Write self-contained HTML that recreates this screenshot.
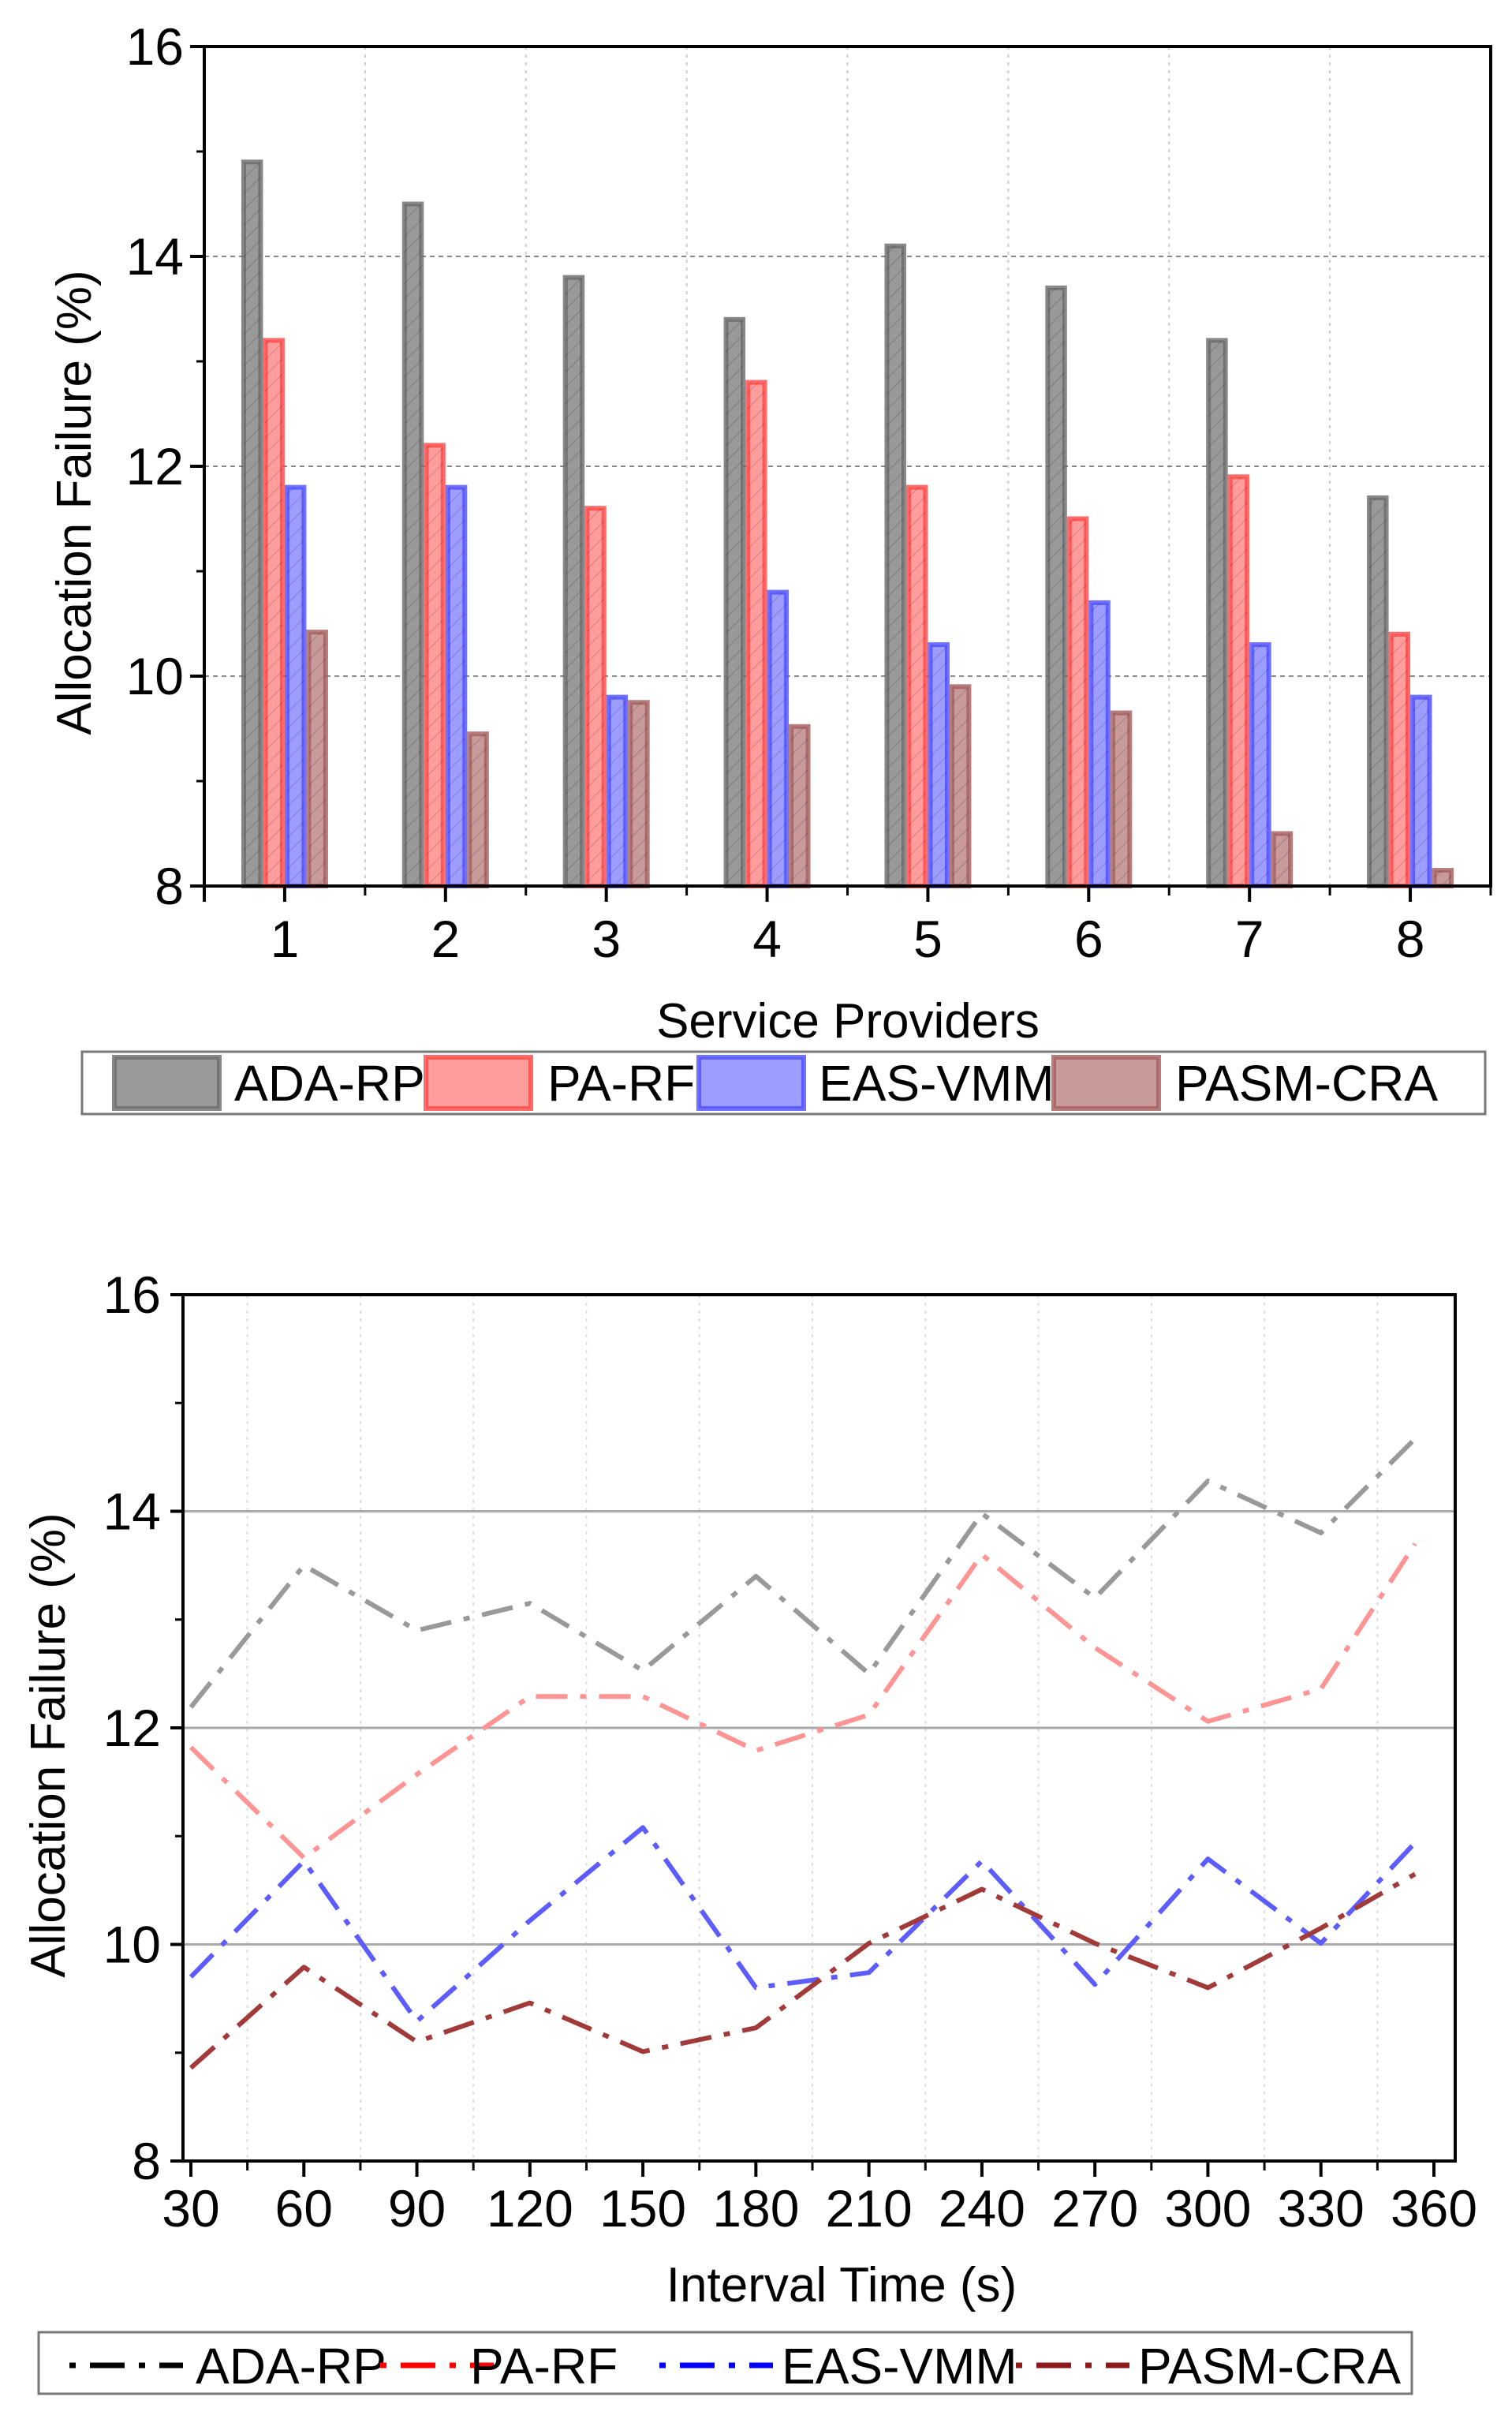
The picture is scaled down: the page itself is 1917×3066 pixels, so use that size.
<!DOCTYPE html>
<html><head><meta charset="utf-8"><style>
html,body{margin:0;padding:0;background:#fff}
svg{display:block}
text{font-family:"Liberation Sans",sans-serif;fill:#000}
</style></head><body>
<svg id="root" width="1917" height="3066" viewBox="0 0 1917 3066" xmlns="http://www.w3.org/2000/svg">
<defs>
<pattern id="hatch" width="14" height="14" patternUnits="userSpaceOnUse" patternTransform="rotate(45)">
<line x1="0" y1="0" x2="0" y2="14" stroke="#000" stroke-opacity="0.18" stroke-width="2"/>
</pattern>
</defs>
<g id="c1"></g>
<g id="c2"></g>
</svg>
<script>
// ---------- Bar chart data ----------
const barCategories = ["1","2","3","4","5","6","7","8"];
const barSeriesNames = ["ADA-RP","PA-RF","EAS-VMM","PASM-CRA"];
const barAda = [14.9,14.5,13.8,13.4,14.1,13.7,13.2,11.7];
const barPa = [13.2,12.2,11.6,12.8,11.8,11.5,11.9,10.4];
const barEas = [11.8,11.8,9.8,10.8,10.3,10.7,10.3,9.8];
const barPasm = [10.42,9.45,9.75,9.52,9.9,9.65,8.5,8.15];
const barYTicks = [8,10,12,14,16];
// ---------- Line chart data ----------
const lineX = [30,60,90,120,150,180,210,240,270,300,330,355];
const lineAda = [12.19,13.5,12.9,13.15,12.53,13.4,12.5,13.98,13.2,14.28,13.8,14.67];
const linePa = [11.82,10.8,11.57,12.29,12.29,11.79,12.12,13.6,12.74,12.06,12.36,13.7];
const lineEas = [9.7,10.77,9.29,10.22,11.08,9.6,9.74,10.77,9.63,10.79,10.01,10.94];
const linePasm = [8.86,9.79,9.1,9.46,9.01,9.23,10.01,10.51,10.01,9.6,10.15,10.65];
const lineXTicks = [30,60,90,120,150,180,210,240,270,300,330,360];
const lineYTicks = [8,10,12,14,16];

const NS="http://www.w3.org/2000/svg";
function mk(parent,tag,attrs,txt){const e=document.createElementNS(NS,tag);for(const k in attrs)e.setAttribute(k,attrs[k]);if(txt!==undefined)e.textContent=txt;parent.appendChild(e);return e;}

// ===== Chart 1 =====
(function(){
const g=document.getElementById('c1');
const L=259,R=1890,T=59,B=1123;
const y=v=>B-(v-8)*(B-T)/8;
const x=i=>L+(i+0.5)*(R-L)/barCategories.length;
const step=(R-L)/barCategories.length;
for(let i=0;i<barCategories.length-1;i++){
 const gl=mk(g,'line',{x1:x(i)+step/2,x2:x(i)+step/2,y1:T,y2:B,stroke:'#ccc','stroke-width':2,'stroke-dasharray':'4 6'});
 
 
}
[10,12,14].forEach(v=>{
 const gl=mk(g,'line',{x1:L,x2:R,y1:y(v),y2:y(v),stroke:'#888','stroke-width':2,'stroke-dasharray':'6 5'});
 
 
});
const series=[barAda,barPa,barEas,barPasm];
const fills=['#999999','#ff9d9d','#9d9dff','#c89a9a'];
const strokes=['#6a6a6a','#ff4545','#4d4dff','#a45c5c'];
const bw=27.5;
series.forEach((s,si)=>{
 s.forEach((v,i)=>{
  const bx=x(i)-2*bw+si*bw;
  const r=mk(g,'rect',{x:bx+3,y:y(v),width:bw-6,height:B-y(v),fill:fills[si],stroke:strokes[si],'stroke-width':6,'stroke-opacity':0.8});
  
  
  mk(g,'rect',{x:bx+3,y:y(v),width:bw-6,height:B-y(v),fill:'url(#hatch)'});
 });
});
mk(g,'rect',{x:L,y:T,width:R-L,height:B-T,fill:'none',stroke:'#000','stroke-width':4});
barYTicks.forEach(v=>{
 mk(g,'line',{x1:L-18,x2:L,y1:y(v),y2:y(v),stroke:'#000','stroke-width':4});
 const t=mk(g,'text',{x:L-26,y:y(v)+23,'font-size':66,'text-anchor':'end'},String(v));
 
 
});
[9,11,13,15].forEach(v=>mk(g,'line',{x1:L-10,x2:L,y1:y(v),y2:y(v),stroke:'#000','stroke-width':3}));
barCategories.forEach((c,i)=>{
 mk(g,'line',{x1:x(i),x2:x(i),y1:B,y2:B+20,stroke:'#000','stroke-width':4});
 mk(g,'line',{x1:x(i)+step/2,x2:x(i)+step/2,y1:B,y2:B+12,stroke:'#000','stroke-width':3});
 const t=mk(g,'text',{x:x(i),y:B+90,'font-size':66,'text-anchor':'middle'},c);
 
 
});
mk(g,'line',{x1:L,x2:L,y1:B,y2:B+20,stroke:'#000','stroke-width':4});
const xt=mk(g,'text',{x:1075,y:1315,'font-size':62,'text-anchor':'middle'},'Service Providers');


const yt=mk(g,'text',{x:0,y:0,'font-size':62,'text-anchor':'middle',transform:'translate(115,637) rotate(-90)'},'Allocation Failure (%)');


const lg=mk(g,'g',{});


mk(lg,'rect',{x:104,y:1333,width:1779,height:79,fill:'#fff',stroke:'#777','stroke-width':3});
const px=[142,537,883,1333], tx=[297,694,1038,1490];
barSeriesNames.forEach((n,i)=>{
 const e=mk(lg,'g',{});
 
 
 mk(e,'rect',{x:px[i]+3,y:1340,width:133,height:65,fill:fills[i],stroke:strokes[i],'stroke-width':6,'stroke-opacity':0.8});
 mk(e,'text',{x:tx[i],y:1395,'font-size':64},n);
});
})();

// ===== Chart 2 =====
(function(){
const g=document.getElementById('c2');
const L=232,R=1845,T=1641,B=2739;
const y=v=>B-(v-8)*(B-T)/8;
const x=v=>242+(v-30)*(1818-242)/330;
for(let v=45;v<360;v+=30){
 const gl=mk(g,'line',{x1:x(v),x2:x(v),y1:T,y2:B,stroke:'#ddd','stroke-width':2,'stroke-dasharray':'4 6'});
 
 
}
[10,12,14].forEach(v=>{
 const gl=mk(g,'line',{x1:L,x2:R,y1:y(v),y2:y(v),stroke:'#aaa','stroke-width':3});
 
 
});
const series=[lineAda,linePa,lineEas,linePasm];
const names=["ADA-RP","PA-RF","EAS-VMM","PASM-CRA"];
const cols=['#999999','#ff9494','#5c5cff','#a33a3a'];
const lcols=['#000','#ff0000','#0000ff','#8b1a1a'];
series.forEach((s,si)=>{
 const d=s.map((v,i)=>(i?'L':'M')+x(lineX[i]).toFixed(1)+' '+y(v).toFixed(1)).join(' ');
 const p=mk(g,'path',{d:d,fill:'none',stroke:cols[si],'stroke-width':6,'stroke-dasharray':'40 16 8 16','stroke-linejoin':'round'});
 
 
});
mk(g,'rect',{x:L,y:T,width:R-L,height:B-T,fill:'none',stroke:'#000','stroke-width':4});
lineYTicks.forEach(v=>{
 mk(g,'line',{x1:L-16,x2:L,y1:y(v),y2:y(v),stroke:'#000','stroke-width':4});
 const t=mk(g,'text',{x:L-28,y:y(v)+23,'font-size':66,'text-anchor':'end'},String(v));
 
 
});
[9,11,13,15].forEach(v=>mk(g,'line',{x1:L-10,x2:L,y1:y(v),y2:y(v),stroke:'#000','stroke-width':3}));
lineXTicks.forEach(v=>{
 mk(g,'line',{x1:x(v),x2:x(v),y1:B,y2:B+20,stroke:'#000','stroke-width':4});
 const t=mk(g,'text',{x:x(v),y:2822,'font-size':66,'text-anchor':'middle'},String(v));
 
 
});
for(let v=45;v<360;v+=30) mk(g,'line',{x1:x(v),x2:x(v),y1:B,y2:B+12,stroke:'#000','stroke-width':3});
const xt=mk(g,'text',{x:1067,y:2917,'font-size':62,'text-anchor':'middle'},'Interval Time (s)');


const yt=mk(g,'text',{x:0,y:0,'font-size':62,'text-anchor':'middle',transform:'translate(82,2212) rotate(-90)'},'Allocation Failure (%)');


const lg=mk(g,'g',{});


mk(lg,'rect',{x:49,y:2956,width:1741,height:78,fill:'#fff',stroke:'#777','stroke-width':3});
const lx=[88,482,836,1288], tx=[248,596,991,1443];
names.forEach((n,i)=>{
 const e=mk(lg,'g',{});
 
 
 mk(e,'line',{x1:lx[i],x2:lx[i]+144,y1:2998,y2:2998,stroke:lcols[i],'stroke-width':7,'stroke-dasharray':'8 18 44 18'});
 mk(e,'text',{x:tx[i],y:3021,'font-size':64},n);
});
})();
</script>
</body></html>
